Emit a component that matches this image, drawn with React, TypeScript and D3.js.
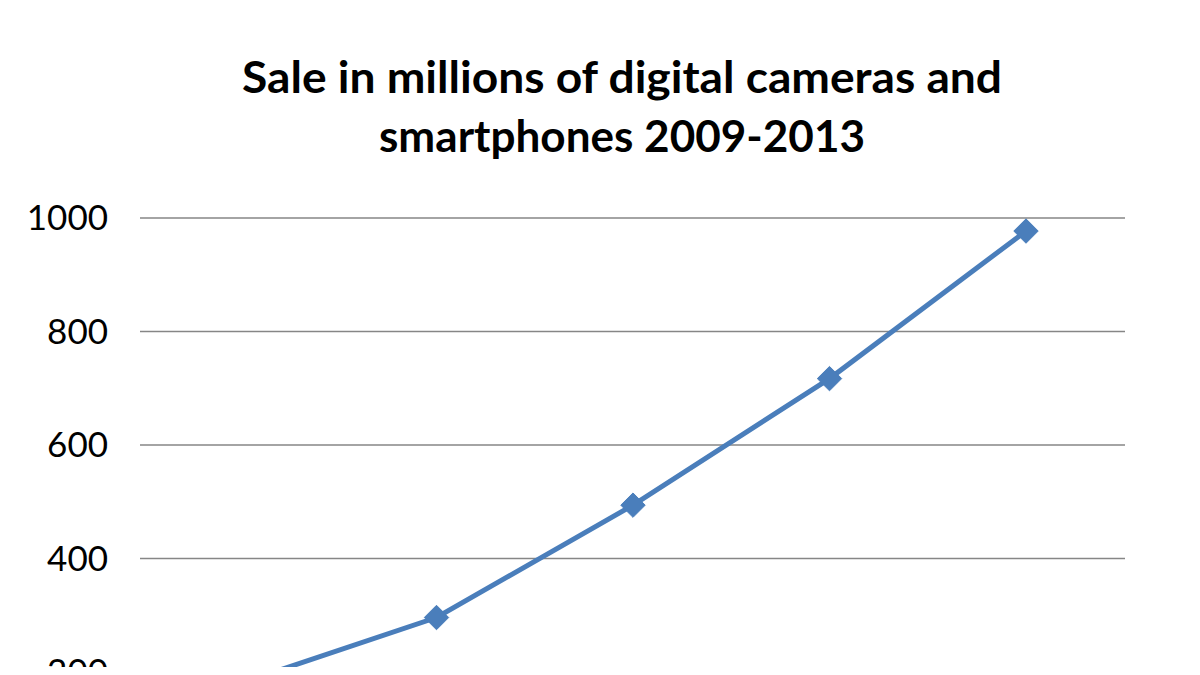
import React, { useEffect, useRef } from "react";
import * as d3 from "d3";

const years = ["2009", "2010", "2011", "2012", "2013"];
const sales = [180, 296, 494, 717, 977];
const yTicks = [0, 200, 400, 600, 800, 1000];
const titleLines = ["Sale in millions of digital cameras and", "smartphones 2009-2013"];
const titleWidths = [760, 486];

export default function App() {
  const ref = useRef<SVGSVGElement>(null);
  useEffect(() => {
    const svg = d3.select(ref.current);
    svg.selectAll("*").remove();
    const W = 1200, H = 675;
    const left = 140, right = 1125;
    const y = d3.scaleLinear().domain([0, 1000]).range([785.5, 218]);
    const x = d3.scalePoint().domain(years).range([240, 1026]);

    svg.append("rect").attr("width", W).attr("height", H).attr("fill", "#ffffff");

    const t = svg.append("g");
    titleLines.forEach((l, i) => {
      t.append("text")
        .attr("x", 622)
        .attr("y", 93 + i * 59)
        .attr("text-anchor", "middle")
        .attr("font-family", "Lato, 'Open Sans', sans-serif")
        .attr("font-weight", "bold")
        .attr("font-size", 43)
        .attr("textLength", titleWidths[i])
        .attr("lengthAdjust", "spacingAndGlyphs")
        .attr("fill", "#000")
        .text(l);
    });

    const g = svg.append("g");
    g.selectAll("line.grid")
      .data(yTicks)
      .join("line")
      .attr("class", "grid")
      .attr("x1", left)
      .attr("x2", right)
      .attr("y1", (d) => y(d))
      .attr("y2", (d) => y(d))
      .attr("stroke", "#868686")
      .attr("stroke-width", 1.5);

    g.selectAll("text.tick")
      .data(yTicks)
      .join("text")
      .attr("class", "tick")
      .attr("x", 108)
      .attr("y", (d) => y(d) + 12)
      .attr("text-anchor", "end")
      .attr("font-family", "Lato, 'Open Sans', sans-serif")
      .attr("font-size", 35)
      .attr("fill", "#000")
      .text((d) => String(d));

    const line = d3
      .line<number>()
      .x((_, i) => x(years[i]) as number)
      .y((d) => y(d));
    g.append("path")
      .attr("d", line(sales) as string)
      .attr("fill", "none")
      .attr("stroke", "#4a7ebb")
      .attr("stroke-width", 5);

    const sym = d3.symbol().type(d3.symbolDiamond2).size(380);
    g.selectAll("path.marker")
      .data(sales)
      .join("path")
      .attr("class", "marker")
      .attr("d", sym as any)
      .attr("transform", (d, i) => `translate(${x(years[i])},${y(d)})`)
      .attr("fill", "#4a7ebb")
      .attr("stroke", "#4a7ebb")
      .attr("stroke-width", 1);
  }, []);
  return (
    <div style={{ margin: -8, width: 1200, height: 675, overflow: "hidden" }}>
      <svg ref={ref} width={1200} height={675} style={{ display: "block" }} />
    </div>
  );
}
